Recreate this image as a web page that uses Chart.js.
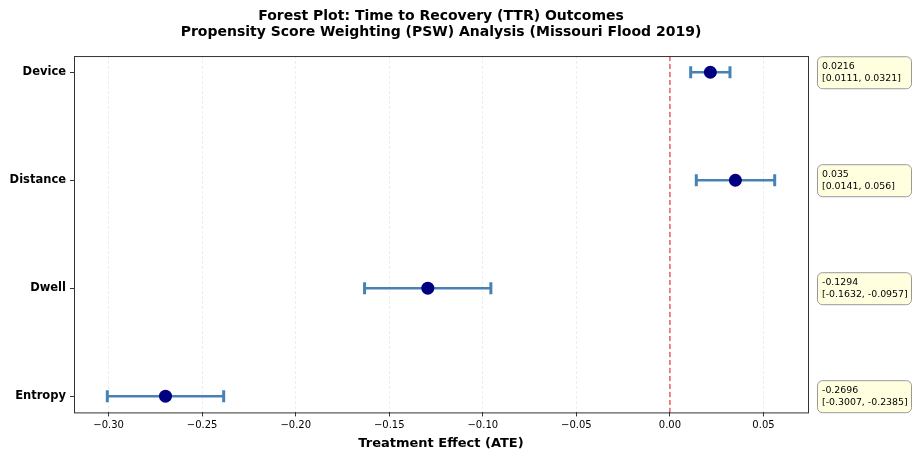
<!DOCTYPE html>
<html lang="en">
<head>
    <meta charset="UTF-8">
    <title>Forest Plot TTR</title>
    <script src="https://cdn.jsdelivr.net/npm/chart.js"></script>
    <style>
        body { margin: 0; background: #fff; }
        canvas { display: block; }
    </style>
</head>
<body>
    <canvas id="forest" width="915" height="453"></canvas>

    <script>
        // values
        const labels = ["Device", "Distance", "Dwell", "Entropy"];
        const ate = [0.0216, 0.035, -0.1294, -0.2696];
        const ciLow = [0.0111, 0.0141, -0.1632, -0.3007];
        const ciHigh = [0.0321, 0.056, -0.0957, -0.2385];
        const xTicks = [-0.30, -0.25, -0.20, -0.15, -0.10, -0.05, 0.00, 0.05];

        const font = "'DejaVu Sans', sans-serif";
        const barColor = "#4682b4";
        const dotColor = "#000080";

        const fmtTick = v => (v < 0 ? "\u2212" : "") + Math.abs(v).toFixed(2);

        // error bar datasets, one per row
        const ciSets = labels.map((name, i) => ({
            label: name + " CI",
            data: [{ x: ciLow[i], y: i }, { x: ciHigh[i], y: i }],
            showLine: true,
            borderColor: barColor,
            borderWidth: 2.5,
            pointStyle: "line",
            rotation: 90,
            pointRadius: 6,
            pointBorderWidth: 3,
            pointBorderColor: barColor,
            order: 1
        }));

        const zeroLine = {
            id: "zeroLine",
            beforeDatasetsDraw(chart) {
                const { ctx, chartArea, scales } = chart;
                const x = scales.x.getPixelForValue(0);
                ctx.save();
                ctx.strokeStyle = "rgba(235, 40, 40, 0.75)";
                ctx.lineWidth = 1.5;
                ctx.setLineDash([5, 3]);
                ctx.beginPath();
                ctx.moveTo(x, chartArea.top);
                ctx.lineTo(x, chartArea.bottom);
                ctx.stroke();
                ctx.restore();
            }
        };

        const frameAndNotes = {
            id: "frameAndNotes",
            afterDraw(chart) {
                const { ctx, chartArea, scales } = chart;
                ctx.save();
                ctx.strokeStyle = "#333";
                ctx.lineWidth = 1;
                ctx.strokeRect(chartArea.left + 0.5, chartArea.top + 0.5,
                    chartArea.right - chartArea.left, chartArea.bottom - chartArea.top);

                // value boxes on the right
                ctx.font = "9.4px " + font;
                ctx.textBaseline = "middle";
                labels.forEach((name, i) => {
                    const y = scales.y.getPixelForValue(i);
                    const bx = chartArea.right + 9, bw = 94, bh = 32;
                    const by = y - bh / 2;
                    ctx.beginPath();
                    ctx.roundRect(bx + 0.5, by + 0.5, bw, bh, 5);
                    ctx.fillStyle = "#ffffe0";
                    ctx.fill();
                    ctx.strokeStyle = "#999";
                    ctx.stroke();
                    ctx.fillStyle = "#000";
                    ctx.fillText(String(ate[i]), bx + 5, y - 6);
                    ctx.fillText("[" + ciLow[i] + ", " + ciHigh[i] + "]", bx + 5, y + 6);
                });
                ctx.restore();
            }
        };

        new Chart(document.getElementById("forest"), {
            type: "scatter",
            data: {
                datasets: [{
                    label: "ATE",
                    data: ate.map((v, i) => ({ x: v, y: i })),
                    pointRadius: 6.5,
                    pointBackgroundColor: dotColor,
                    pointBorderColor: dotColor,
                    pointBorderWidth: 0,
                    order: 0
                }].concat(ciSets)
            },
            options: {
                responsive: false,
                animation: false,
                devicePixelRatio: 1,
                layout: { padding: { left: 4, right: 107, top: 8, bottom: 2 } },
                plugins: {
                    legend: { display: false },
                    tooltip: { enabled: false },
                    title: {
                        display: true,
                        fullSize: false,
                        text: ["Forest Plot: Time to Recovery (TTR) Outcomes",
                               "Propensity Score Weighting (PSW) Analysis (Missouri Flood 2019)"],
                        color: "#000",
                        font: { family: font, size: 14, weight: "bold", lineHeight: 1.18 },
                        padding: { top: 0, bottom: 15 }
                    }
                },
                scales: {
                    x: {
                        type: "linear",
                        min: -0.3185,
                        max: 0.0738,
                        afterBuildTicks: axis => { axis.ticks = xTicks.map(v => ({ value: v })); },
                        ticks: {
                            callback: v => fmtTick(v),
                            color: "#000",
                            font: { family: font, size: 10 },
                            padding: 3
                        },
                        grid: {
                            color: "rgba(0,0,0,0.07)",
                            tickColor: "#333",
                            tickLength: 4
                        },
                        border: { display: false, dash: [3, 2] },
                        title: {
                            display: true,
                            text: "Treatment Effect (ATE)",
                            color: "#000",
                            font: { family: font, size: 13, weight: "bold" },
                            padding: { top: 1, bottom: 0 }
                        }
                    },
                    y: {
                        type: "linear",
                        min: -0.15,
                        max: 3.15,
                        reverse: true,
                        afterBuildTicks: axis => { axis.ticks = labels.map((n, i) => ({ value: i })); },
                        afterFit: axis => { axis.width = 70; },
                        ticks: {
                            callback: v => labels[v],
                            color: "#000",
                            font: { family: font, size: 11.5, weight: "bold" },
                            padding: 4
                        },
                        grid: {
                            drawOnChartArea: false,
                            tickColor: "#333",
                            tickLength: 4
                        },
                        border: { display: false }
                    }
                }
            },
            plugins: [zeroLine, frameAndNotes]
        });
    </script>
</body>
</html>
